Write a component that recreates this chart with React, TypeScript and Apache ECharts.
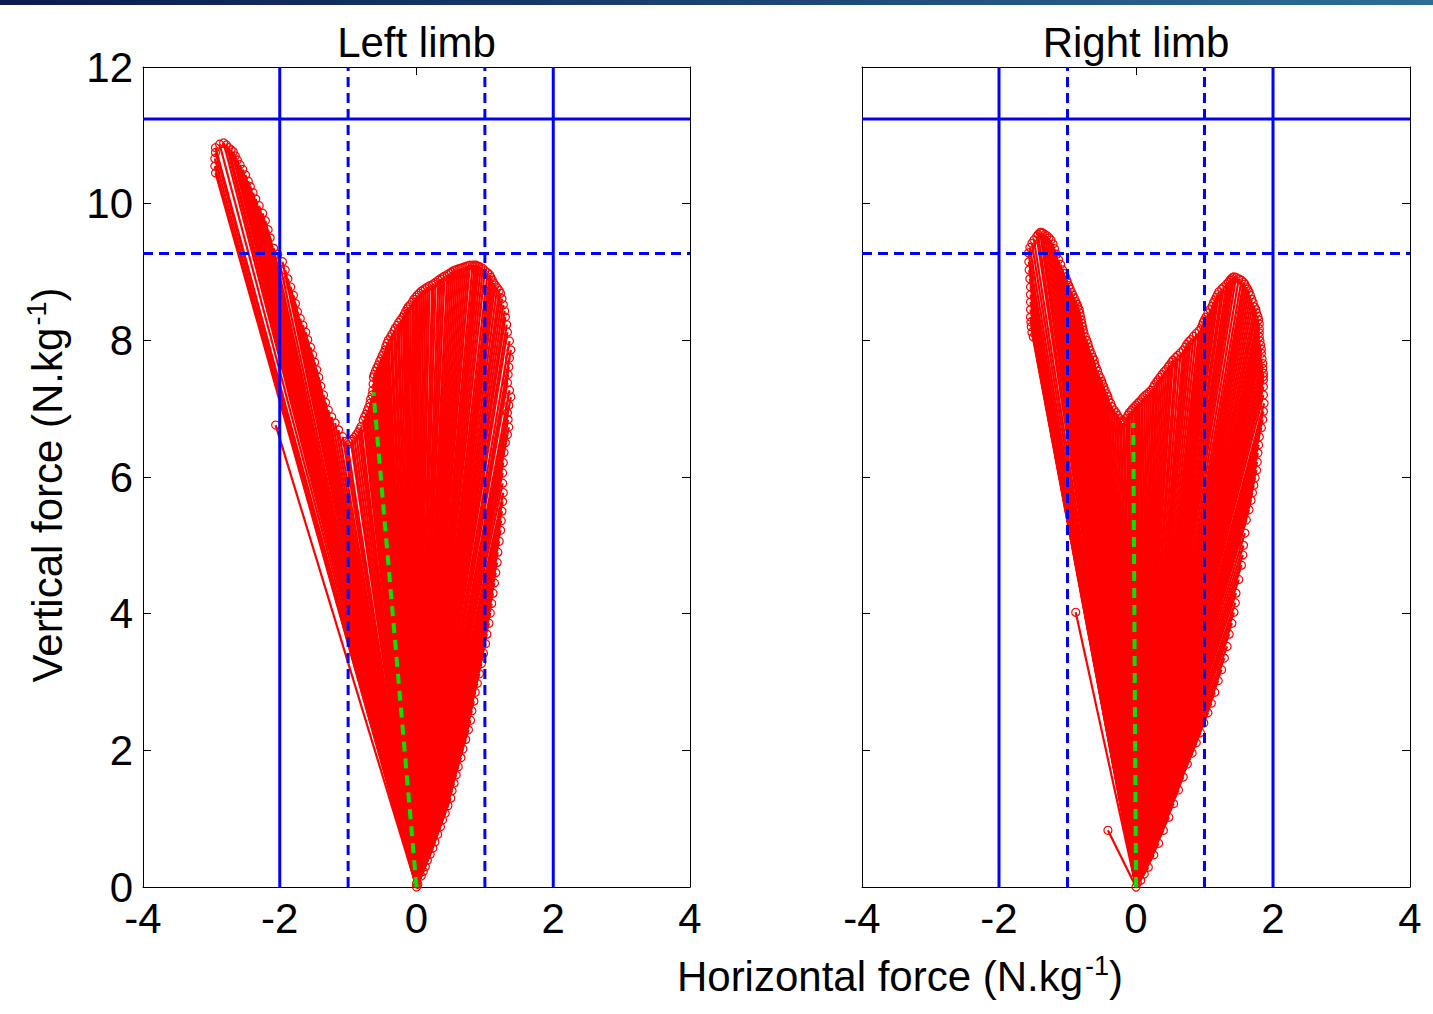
import React, { useEffect, useRef } from "react";
import * as echarts from "echarts";

type Pt = [number, number];

// Tips of the ground-reaction force vectors (horizontal, vertical) in N/kg, in stance order
const leftLimbTips: Pt[] = [
  [0.0, 0.05], [-2.06, 6.76], [-2.94, 10.45], [-2.95, 10.55], [-2.95, 10.66], [-2.94, 10.75],
  [-2.94, 10.82], [-2.88, 10.87], [-2.82, 10.89], [-2.78, 10.86], [-2.75, 10.82], [-2.71, 10.79],
  [-2.68, 10.76], [-2.65, 10.7], [-2.62, 10.64], [-2.58, 10.57], [-2.54, 10.5], [-2.5, 10.42],
  [-2.46, 10.33], [-2.43, 10.25], [-2.39, 10.16], [-2.35, 10.07], [-2.3, 9.97], [-2.25, 9.86],
  [-2.21, 9.75], [-2.17, 9.62], [-2.14, 9.5], [-2.09, 9.35], [-2.03, 9.26], [-1.96, 9.15],
  [-1.92, 9.03], [-1.88, 8.9], [-1.84, 8.78], [-1.8, 8.66], [-1.77, 8.54], [-1.74, 8.42],
  [-1.7, 8.32], [-1.66, 8.22], [-1.62, 8.12], [-1.59, 8.01], [-1.55, 7.9], [-1.52, 7.79],
  [-1.49, 7.68], [-1.46, 7.57], [-1.43, 7.46], [-1.4, 7.33], [-1.36, 7.2], [-1.33, 7.09],
  [-1.29, 6.98], [-1.24, 6.88], [-1.19, 6.79], [-1.14, 6.69], [-1.08, 6.59], [-1.04, 6.52],
  [-1.01, 6.47], [-0.96, 6.52], [-0.94, 6.55], [-0.91, 6.58], [-0.88, 6.62], [-0.85, 6.66],
  [-0.83, 6.7], [-0.81, 6.74], [-0.78, 6.83], [-0.76, 6.88], [-0.74, 6.92], [-0.72, 6.97],
  [-0.7, 7.02], [-0.68, 7.08], [-0.67, 7.14], [-0.65, 7.2], [-0.64, 7.27], [-0.635, 7.36],
  [-0.63, 7.46], [-0.62, 7.5], [-0.6, 7.55], [-0.58, 7.6], [-0.56, 7.64], [-0.54, 7.69],
  [-0.52, 7.73], [-0.5, 7.78], [-0.48, 7.82], [-0.46, 7.86], [-0.45, 7.91], [-0.43, 7.96],
  [-0.41, 8.01], [-0.38, 8.05], [-0.36, 8.09], [-0.33, 8.14], [-0.31, 8.18], [-0.28, 8.22],
  [-0.26, 8.26], [-0.23, 8.3], [-0.2, 8.34], [-0.18, 8.38], [-0.16, 8.42], [-0.14, 8.46],
  [-0.12, 8.49], [-0.09, 8.52], [-0.06, 8.56], [-0.04, 8.6], [-0.01, 8.63], [0.01, 8.66],
  [0.04, 8.69], [0.07, 8.72], [0.1, 8.74], [0.13, 8.76], [0.16, 8.78], [0.19, 8.8],
  [0.23, 8.81], [0.25, 8.83], [0.28, 8.85], [0.32, 8.88], [0.35, 8.9], [0.38, 8.92],
  [0.41, 8.94], [0.45, 8.96], [0.48, 8.98], [0.51, 9.0], [0.54, 9.02], [0.57, 9.03],
  [0.6, 9.04], [0.63, 9.05], [0.66, 9.06], [0.69, 9.07], [0.72, 9.08], [0.75, 9.09],
  [0.78, 9.1], [0.82, 9.1], [0.85, 9.1], [0.87, 9.1], [0.89, 9.09], [0.91, 9.08],
  [0.94, 9.07], [0.97, 9.05], [1.0, 9.02], [1.04, 8.99], [1.07, 8.96], [1.09, 8.92],
  [1.11, 8.88], [1.13, 8.84], [1.15, 8.81], [1.18, 8.77], [1.21, 8.73], [1.23, 8.69],
  [1.25, 8.61], [1.27, 8.52], [1.29, 8.43], [1.3, 8.34], [1.32, 8.23], [1.33, 8.12],
  [1.36, 7.99], [1.38, 7.86], [1.36, 7.74], [1.35, 7.61], [1.34, 7.5], [1.33, 7.38],
  [1.36, 7.27], [1.38, 7.17], [1.35, 7.05], [1.33, 6.94], [1.34, 6.84], [1.35, 6.73],
  [1.33, 6.62], [1.3, 6.5], [1.28, 6.36], [1.27, 6.21], [1.26, 6.06], [1.26, 5.91],
  [1.27, 5.77], [1.26, 5.64], [1.25, 5.5], [1.24, 5.36], [1.23, 5.22], [1.21, 5.06],
  [1.19, 4.9], [1.18, 4.75], [1.16, 4.6], [1.14, 4.45], [1.12, 4.3], [1.1, 4.15],
  [1.08, 4.01], [1.06, 3.86], [1.03, 3.7], [1.01, 3.56], [0.98, 3.42], [0.95, 3.27],
  [0.92, 3.12], [0.89, 2.98], [0.86, 2.85], [0.84, 2.72], [0.81, 2.58], [0.79, 2.44],
  [0.76, 2.3], [0.72, 2.16], [0.68, 2.02], [0.65, 1.89], [0.61, 1.76], [0.58, 1.64],
  [0.55, 1.52], [0.52, 1.41], [0.5, 1.3], [0.46, 1.19], [0.42, 1.08], [0.38, 0.98],
  [0.35, 0.88], [0.31, 0.77], [0.27, 0.66], [0.24, 0.57], [0.2, 0.48], [0.16, 0.39],
  [0.13, 0.3], [0.1, 0.23], [0.07, 0.16], [0.02, 0.04],
];

const rightLimbTips: Pt[] = [
  [0.02, 0.06], [-0.41, 0.83], [-0.88, 4.02], [-1.5, 8.05], [-1.52, 8.12], [-1.53, 8.2],
  [-1.535, 8.27], [-1.54, 8.34], [-1.54, 8.45], [-1.54, 8.56], [-1.54, 8.67], [-1.54, 8.78],
  [-1.55, 8.9], [-1.56, 9.03], [-1.565, 9.15], [-1.57, 9.28], [-1.55, 9.36], [-1.52, 9.42],
  [-1.49, 9.47], [-1.45, 9.52], [-1.43, 9.55], [-1.4, 9.58], [-1.38, 9.58], [-1.36, 9.57],
  [-1.33, 9.55], [-1.3, 9.53], [-1.27, 9.5], [-1.24, 9.47], [-1.21, 9.41], [-1.19, 9.34],
  [-1.16, 9.26], [-1.13, 9.18], [-1.1, 9.11], [-1.07, 9.03], [-1.05, 8.98], [-1.03, 8.93],
  [-1.01, 8.88], [-1.0, 8.84], [-0.98, 8.8], [-0.96, 8.75], [-0.94, 8.7], [-0.92, 8.66],
  [-0.9, 8.62], [-0.88, 8.57], [-0.86, 8.53], [-0.85, 8.49], [-0.83, 8.45], [-0.82, 8.4],
  [-0.81, 8.35], [-0.8, 8.3], [-0.79, 8.25], [-0.78, 8.2], [-0.77, 8.15], [-0.76, 8.11],
  [-0.74, 8.05], [-0.72, 8.0], [-0.7, 7.95], [-0.69, 7.9], [-0.67, 7.85], [-0.65, 7.8],
  [-0.63, 7.75], [-0.61, 7.71], [-0.6, 7.65], [-0.58, 7.6], [-0.56, 7.55], [-0.54, 7.49],
  [-0.52, 7.45], [-0.5, 7.4], [-0.49, 7.36], [-0.47, 7.32], [-0.45, 7.27], [-0.43, 7.22],
  [-0.41, 7.18], [-0.4, 7.13], [-0.37, 7.08], [-0.35, 7.03], [-0.32, 6.98], [-0.29, 6.94],
  [-0.27, 6.9], [-0.24, 6.86], [-0.22, 6.82], [-0.19, 6.79], [-0.17, 6.82], [-0.14, 6.86],
  [-0.12, 6.9], [-0.1, 6.94], [-0.07, 6.97], [-0.05, 7.0], [-0.02, 7.03], [0.0, 7.05],
  [0.03, 7.08], [0.05, 7.1], [0.08, 7.13], [0.1, 7.16], [0.13, 7.19], [0.16, 7.21],
  [0.19, 7.24], [0.22, 7.27], [0.25, 7.31], [0.27, 7.35], [0.3, 7.39], [0.32, 7.42],
  [0.35, 7.46], [0.38, 7.5], [0.41, 7.54], [0.44, 7.57], [0.47, 7.61], [0.49, 7.64],
  [0.52, 7.68], [0.54, 7.71], [0.58, 7.75], [0.61, 7.78], [0.65, 7.82], [0.69, 7.86],
  [0.72, 7.9], [0.74, 7.94], [0.77, 7.98], [0.8, 8.01], [0.84, 8.06], [0.88, 8.1],
  [0.92, 8.14], [0.95, 8.18], [0.97, 8.22], [0.98, 8.26], [1.0, 8.3], [1.02, 8.34],
  [1.05, 8.4], [1.08, 8.45], [1.11, 8.5], [1.13, 8.55], [1.15, 8.59], [1.17, 8.63],
  [1.19, 8.67], [1.21, 8.71], [1.25, 8.75], [1.28, 8.78], [1.32, 8.82], [1.35, 8.85],
  [1.37, 8.88], [1.39, 8.9], [1.41, 8.92], [1.43, 8.93], [1.46, 8.92], [1.5, 8.9],
  [1.54, 8.88], [1.57, 8.85], [1.59, 8.82], [1.61, 8.78], [1.63, 8.75], [1.65, 8.71],
  [1.67, 8.66], [1.69, 8.6], [1.71, 8.55], [1.73, 8.49], [1.75, 8.45], [1.76, 8.4],
  [1.78, 8.35], [1.79, 8.3], [1.8, 8.24], [1.8, 8.17], [1.8, 8.11], [1.8, 8.05],
  [1.81, 7.99], [1.82, 7.93], [1.83, 7.87], [1.83, 7.81], [1.84, 7.73], [1.85, 7.66],
  [1.85, 7.59], [1.86, 7.52], [1.86, 7.47], [1.86, 7.42], [1.86, 7.32], [1.86, 7.2],
  [1.87, 7.08], [1.86, 6.96], [1.85, 6.84], [1.83, 6.72], [1.8, 6.59], [1.79, 6.47],
  [1.78, 6.35], [1.77, 6.22], [1.76, 6.1], [1.74, 5.99], [1.72, 5.88], [1.7, 5.77],
  [1.68, 5.66], [1.65, 5.52], [1.61, 5.37], [1.59, 5.18], [1.57, 5.0], [1.56, 4.86],
  [1.54, 4.71], [1.5, 4.5], [1.46, 4.3], [1.45, 4.16], [1.43, 4.02], [1.4, 3.86],
  [1.36, 3.7], [1.33, 3.52], [1.29, 3.35], [1.25, 3.18], [1.2, 3.02], [1.15, 2.85],
  [1.1, 2.69], [1.05, 2.55], [0.99, 2.4], [0.94, 2.26], [0.88, 2.11], [0.82, 1.96],
  [0.75, 1.8], [0.69, 1.61], [0.62, 1.42], [0.55, 1.22], [0.48, 1.02], [0.4, 0.83],
  [0.33, 0.64], [0.26, 0.47], [0.18, 0.29], [0.12, 0.19], [0.07, 0.1],
];

// Mean resultant force vectors
const leftMeanVector: Pt = [-0.63, 7.24];
const rightMeanVector: Pt = [-0.04, 6.79];

// Reference limits
const solidLimitsX = [-2, 2];
const dashedLimitsX = [-1, 1];
const solidLimitsY = [11.24];
const dashedLimitsY = [9.27];

const xTicks = [-4, -2, 0, 2, 4];
const yTicks = [0, 2, 4, 6, 8, 10, 12];

const panelTitles = ["Left limb", "Right limb"];
const xAxisTitle = "Horizontal force (N.kg";
const yAxisTitle = "Vertical force (N.kg";
const unitExponent = "-1";

const FONT = "'Liberation Sans', Arial, Helvetica, sans-serif";
const FS = 42;

const grids = [
  { left: 143, top: 67, width: 547, height: 820 },
  { left: 862, top: 67, width: 548, height: 820 },
];

const App: React.FC = () => {
  const ref = useRef<HTMLDivElement>(null);

  useEffect(() => {
    if (!ref.current) return;
    const chart = echarts.init(ref.current, null, { renderer: "svg" });

    const xMin = xTicks[0];
    const xMax = xTicks[xTicks.length - 1];
    const xStep = xTicks[1] - xTicks[0];
    const yMin = yTicks[0];
    const yMax = yTicks[yTicks.length - 1];
    const yStep = yTicks[1] - yTicks[0];

    const lineStyle = { color: "#000", width: 1 };
    const tick = { show: true, inside: true, length: 8, lineStyle };
    const label = { fontSize: FS, fontFamily: FONT, color: "#000", lineHeight: 30 };

    const xAxis: any[] = [];
    const yAxis: any[] = [];
    grids.forEach((_, gi) => {
      xAxis.push({
        type: "value", gridIndex: gi, position: "bottom", min: xMin, max: xMax, interval: xStep,
        axisLine: { show: true, onZero: false, lineStyle }, axisTick: tick,
        axisLabel: { ...label, margin: 16 }, splitLine: { show: false },
      });
      xAxis.push({
        type: "value", gridIndex: gi, position: "top", min: xMin, max: xMax, interval: xStep,
        axisLine: { show: true, onZero: false, lineStyle }, axisTick: tick,
        axisLabel: { show: false }, splitLine: { show: false },
      });
      yAxis.push({
        type: "value", gridIndex: gi, position: "left", min: yMin, max: yMax, interval: yStep,
        axisLine: { show: true, onZero: false, lineStyle }, axisTick: tick,
        axisLabel: { ...label, show: gi === 0, margin: 10 }, splitLine: { show: false },
      });
      yAxis.push({
        type: "value", gridIndex: gi, position: "right", min: yMin, max: yMax, interval: yStep,
        axisLine: { show: true, onZero: false, lineStyle }, axisTick: tick,
        axisLabel: { show: false }, splitLine: { show: false },
      });
    });

    const panels = [
      { tips: leftLimbTips, mean: leftMeanVector },
      { tips: rightLimbTips, mean: rightMeanVector },
    ];

    const series: any[] = [];
    panels.forEach((p, gi) => {
      const axes = { xAxisIndex: gi * 2, yAxisIndex: gi * 2 };
      // force vectors from the origin
      series.push({
        type: "lines", coordinateSystem: "cartesian2d", ...axes, silent: true, z: 2,
        polyline: false, symbol: ["none", "none"],
        lineStyle: { color: "#ff0000", width: 2.2, opacity: 1, curveness: 0 },
        data: p.tips.map((t) => ({ coords: [[0, 0], t] })),
      });
      // hollow markers at vector tips and origin
      series.push({
        type: "scatter", ...axes, silent: true, z: 3,
        symbol: "circle", symbolSize: 8,
        itemStyle: { color: "rgba(0,0,0,0)", borderColor: "#ff0000", borderWidth: 1.2, opacity: 1 },
        data: [[0, 0] as Pt, ...p.tips],
      });
      const limitLine = (data: Pt[], dashed: boolean) => ({
        type: "line", ...axes, silent: true, z: 4, symbol: "none", showSymbol: false,
        lineStyle: { color: "#0000ff", width: 3, type: dashed ? [10, 6] : "solid" },
        data,
      });
      solidLimitsX.forEach((x) => series.push(limitLine([[x, yMin], [x, yMax]], false)));
      dashedLimitsX.forEach((x) => series.push(limitLine([[x, yMin], [x, yMax]], true)));
      solidLimitsY.forEach((y) => series.push(limitLine([[xMin, y], [xMax, y]], false)));
      dashedLimitsY.forEach((y) => series.push(limitLine([[xMin, y], [xMax, y]], true)));
      // mean vector
      series.push({
        type: "line", ...axes, silent: true, z: 5, symbol: "none", showSymbol: false,
        lineStyle: { color: "#00e600", width: 4, type: [10, 7] },
        data: [[0, 0], p.mean],
      });
    });

    const rich = {
      n: { fontSize: FS, fontFamily: FONT, fill: "#000", lineHeight: 48 },
      s: { fontSize: 27, fontFamily: FONT, fill: "#000", lineHeight: 48, verticalAlign: "top", padding: [0, 0, 0, 2] },
    };
    const titled = (t: string) => `{n|${t}}{s|${unitExponent}}{n|)}`;

    const graphic: any[] = [
      {
        type: "rect", left: 0, top: 0, silent: true,
        shape: { x: 0, y: 0, width: 1433, height: 5 },
        style: {
          fill: new echarts.graphic.LinearGradient(0, 0, 1, 0, [
            { offset: 0, color: "#0b1a4f" },
            { offset: 0.5, color: "#1b4274" },
            { offset: 1, color: "#2c6e97" },
          ]),
        },
      },
      ...panelTitles.map((t, i) => ({
        type: "text", silent: true,
        x: grids[i].left + grids[i].width / 2, y: 42,
        style: { text: t, fontSize: FS, fontFamily: FONT, fill: "#000", align: "center", verticalAlign: "middle" },
      })),
      {
        type: "text", silent: true, x: 900, y: 976,
        style: { text: titled(xAxisTitle), rich, align: "center", verticalAlign: "middle" },
      },
      {
        type: "text", silent: true, x: 47, y: 485, rotation: Math.PI / 2,
        style: { text: titled(yAxisTitle), rich, align: "center", verticalAlign: "middle" },
      },
    ];

    chart.setOption({
      animation: false,
      backgroundColor: "#fff",
      grid: grids.map((g) => ({ ...g, containLabel: false })),
      xAxis,
      yAxis,
      series,
      graphic,
    });

    return () => chart.dispose();
  }, []);

  return (
    <div
      ref={ref}
      style={{ position: "absolute", left: 0, top: 0, width: 1433, height: 1014, background: "#fff" }}
    />
  );
};

export default App;
